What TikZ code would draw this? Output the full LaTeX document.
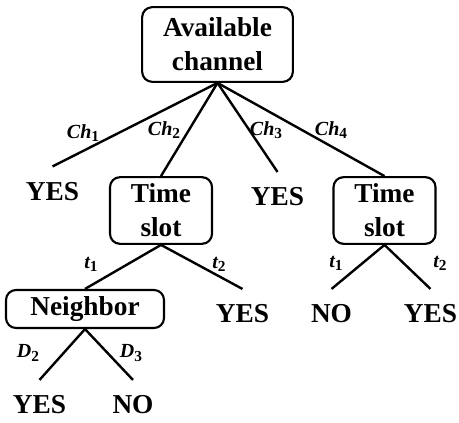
\documentclass[tikz,border=0pt]{standalone}
\usepackage{fontspec}
\setmainfont{Liberation Serif}

\tikzset{every picture/.style={line width=1.8pt}}
\tikzset{
  boxnode/.style={draw, line width=1.6pt, rounded corners=7.5pt, align=center, inner sep=0pt,
    font=\fontsize{20.5}{25.5}\selectfont\bfseries},
  leafnode/.style={inner xsep=0pt, inner ysep=11pt, font=\fontsize{20.5}{24}\selectfont\bfseries},
  lblnode/.style={inner sep=0pt, font=\fontsize{15}{17}\selectfont\bfseries\itshape}
}
\newcommand{\brlab}[2]{#1\raisebox{-0.35ex}{\fontsize{11.5}{12}\selectfont\upshape #2}}

\begin{document}
\begin{tikzpicture}[x=0.75pt,y=0.75pt,yscale=-1,xscale=1]
\useasboundingbox (0,0) rectangle (459,423);

%Rounded Rect: root
\node [boxnode, minimum width=113pt, minimum height=56pt] (chan) at (217.5,44.5) {Available\\channel};
%Rounded Rect: time slot boxes
\node [boxnode, minimum width=76.5pt, minimum height=50pt] (slotA) at (161,210.5) {Time\\slot};
\node [boxnode, minimum width=76.5pt, minimum height=50pt] (slotB) at (384.5,210.5) {Time\\slot};
%Rounded Rect: neighbor
\node [boxnode, minimum width=118.5pt, minimum height=28.5pt] (neigh) at (85,309) {Neighbor};

% Leaf Nodes
\node [leafnode] (yesA) at (52.5,191.5) {YES};
\node [leafnode] (yesB) at (277.5,197) {YES};
\node [leafnode] (yesC) at (242.5,314) {YES};
\node [leafnode] (noA) at (331.5,314) {NO};
\node [leafnode] (yesD) at (430.5,314) {YES};
\node [leafnode] (yesE) at (39.5,405) {YES};
\node [leafnode] (noB) at (133,405) {NO};

%Straight Lines
\draw (chan.south) -- (yesA.north);
\draw (chan.south) -- (slotA.north);
\draw (chan.south) -- (yesB.north);
\draw (chan.south) -- (slotB.north);
\draw (slotA.south) -- (neigh.north);
\draw (slotA.south) -- (yesC.north);
\draw (slotB.south) -- (noA.north);
\draw (slotB.south) -- (yesD.north);
\draw (neigh.south) -- (yesE.north);
\draw (neigh.south) -- (noB.north);

% Text Node
\node [lblnode] (chA) at (83,133) {\brlab{Ch}{1}};
\node [lblnode] (chB) at (164,130) {\brlab{Ch}{2}};
\node [lblnode] (chC) at (266,130) {\brlab{Ch}{3}};
\node [lblnode] (chD) at (331,130) {\brlab{Ch}{4}};
\node [lblnode] (tA) at (91,264) {\brlab{t}{1}};
\node [lblnode] (tB) at (219,264) {\brlab{t}{2}};
\node [lblnode] (tC) at (336,263) {\brlab{t}{1}};
\node [lblnode] (tD) at (440,263) {\brlab{t}{2}};
\node [lblnode] (dA) at (28,353) {\brlab{D}{2}};
\node [lblnode] (dB) at (131,353) {\brlab{D}{3}};

\end{tikzpicture}
\end{document}
